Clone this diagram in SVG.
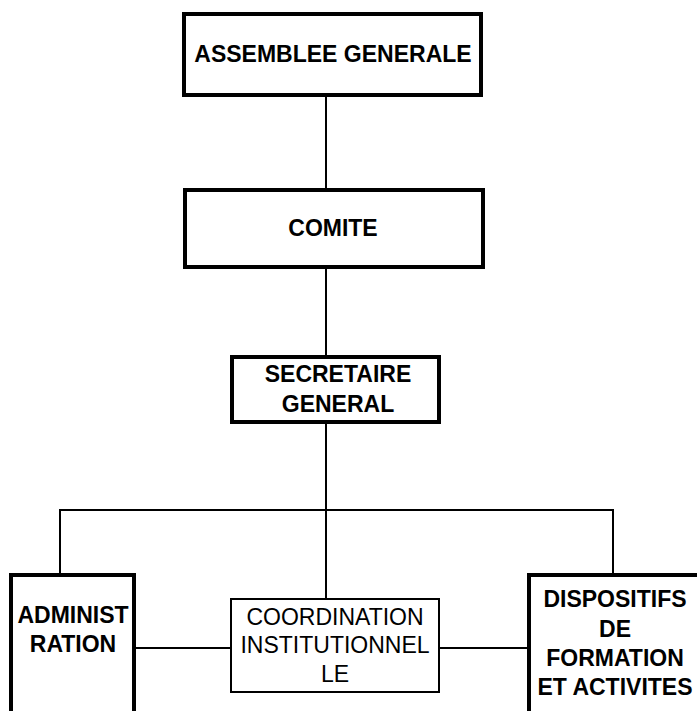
<svg xmlns="http://www.w3.org/2000/svg" width="697" height="711" viewBox="0 0 697 711">
<style>
.box{fill:#fff;stroke:#000;stroke-width:4}
.thin{fill:#fff;stroke:#000;stroke-width:2}
.t{font-family:"Liberation Sans",Arial,sans-serif;font-size:23px;font-weight:bold;text-anchor:middle;fill:#000}
.n{font-family:"Liberation Sans",Arial,sans-serif;font-size:23px;text-anchor:middle;fill:#000}
.c{stroke:#000;stroke-width:2;fill:none}
</style>
<rect width="697" height="711" fill="#fff"/>
<g id="connectors">
<line class="c" x1="326" y1="97" x2="326" y2="189"/>
<line class="c" x1="326" y1="269" x2="326" y2="355"/>
<line class="c" x1="326" y1="424" x2="326" y2="599"/>
<polyline class="c" points="60,573 60,510 613,510 613,573"/>
<line class="c" x1="136" y1="648" x2="230" y2="648"/>
<line class="c" x1="440" y1="648" x2="527" y2="648"/>
</g>
<g id="assemblee">
<rect class="box" x="184" y="14" width="297" height="81"/>
<text class="t" x="333" y="62">ASSEMBLEE GENERALE</text>
</g>
<g id="comite">
<rect class="box" x="185" y="190" width="298" height="77"/>
<text class="t" x="333" y="236">COMITE</text>
</g>
<g id="secretaire">
<rect class="box" x="232" y="357" width="207" height="65"/>
<text class="t" x="338" y="382">SECRETAIRE</text>
<text class="t" x="338" y="412">GENERAL</text>
</g>
<g id="administration">
<rect class="box" x="11" y="575" width="123" height="200"/>
<text class="t" x="73" y="623">ADMINIST</text>
<text class="t" x="73" y="652">RATION</text>
</g>
<g id="coordination">
<rect class="thin" x="231" y="599" width="208" height="93"/>
<text class="n" x="335" y="625">COORDINATION</text>
<text class="n" x="335" y="653">INSTITUTIONNEL</text>
<text class="n" x="335" y="682">LE</text>
</g>
<g id="dispositifs">
<rect class="box" x="529" y="575" width="200" height="200"/>
<text class="t" x="615" y="607">DISPOSITIFS</text>
<text class="t" x="615" y="637">DE</text>
<text class="t" x="615" y="666">FORMATION</text>
<text class="t" x="615" y="695">ET ACTIVITES</text>
</g>
</svg>
